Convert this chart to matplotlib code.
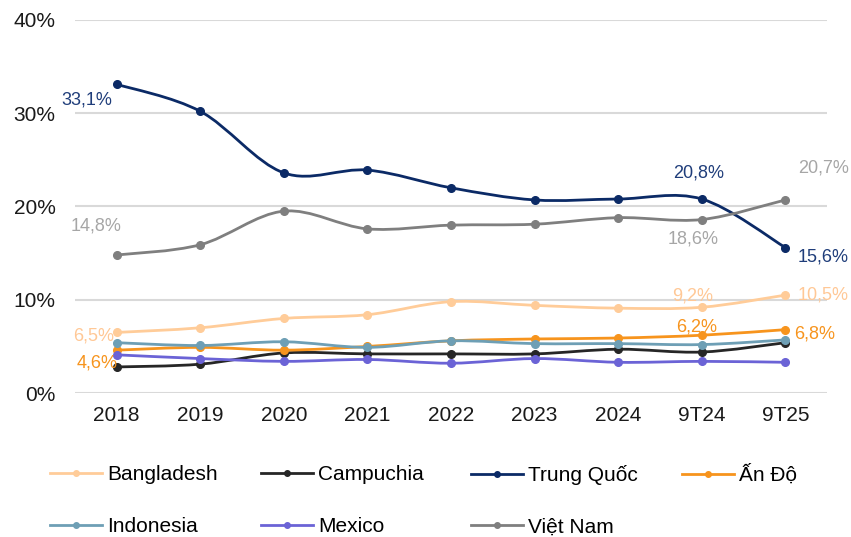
import matplotlib.pyplot as plt
from matplotlib.path import Path
from matplotlib.patches import PathPatch
from matplotlib.lines import Line2D
import numpy as np

plt.rcParams['font.family'] = ['Liberation Sans', 'DejaVu Sans']

nam = ["2018", "2019", "2020", "2021", "2022", "2023", "2024", "9T24", "9T25"]

bangladesh = [6.5, 7.0, 8.0, 8.4, 9.8, 9.4, 9.1, 9.2, 10.5]
campuchia = [2.8, 3.1, 4.3, 4.2, 4.2, 4.2, 4.7, 4.4, 5.4]
trung_quoc = [33.1, 30.2, 23.6, 23.9, 22.0, 20.7, 20.8, 20.8, 15.6]
an_do = [4.6, 4.9, 4.6, 5.0, 5.6, 5.8, 5.9, 6.2, 6.8]
indonesia = [5.4, 5.1, 5.5, 4.9, 5.6, 5.3, 5.3, 5.2, 5.7]
mexico = [4.1, 3.7, 3.4, 3.6, 3.2, 3.7, 3.3, 3.4, 3.3]
viet_nam = [14.8, 15.9, 19.5, 17.6, 18.0, 18.1, 18.8, 18.6, 20.7]

series = [
    ("Bangladesh", bangladesh, "#FFCC99"),
    ("Campuchia", campuchia, "#262626"),
    ("Trung Quốc", trung_quoc, "#0B2A66"),
    ("Ấn Độ", an_do, "#F7941D"),
    ("Indonesia", indonesia, "#6E9FB5"),
    ("Mexico", mexico, "#6B63D6"),
    ("Việt Nam", viet_nam, "#7F7F7F"),
]


def duong_cong(x, y):
    # duong cong muot kieu Excel (Catmull-Rom -> Bezier)
    n = len(x)
    verts = [(x[0], y[0])]
    codes = [Path.MOVETO]
    for i in range(n - 1):
        x0, y0 = (x[i - 1], y[i - 1]) if i > 0 else (x[i], y[i])
        x3, y3 = (x[i + 2], y[i + 2]) if i + 2 < n else (x[i + 1], y[i + 1])
        c1 = (x[i] + (x[i + 1] - x0) / 6, y[i] + (y[i + 1] - y0) / 6)
        c2 = (x[i + 1] - (x3 - x[i]) / 6, y[i + 1] - (y3 - y[i]) / 6)
        verts += [c1, c2, (x[i + 1], y[i + 1])]
        codes += [Path.CURVE4] * 3
    return Path(verts, codes)


fig = plt.figure(figsize=(8.51, 5.37), dpi=100)
ax = fig.add_axes([0.088, 0.268, 0.884, 0.695])

xs = np.arange(len(nam))
handles = []
for ten, vals, mau in series:
    p = PathPatch(duong_cong(xs, vals), facecolor="none", edgecolor=mau, lw=2.0,
                  capstyle="round", joinstyle="round")
    ax.add_patch(p)
    ax.plot(xs, vals, linestyle="none", marker="o", markersize=5.5, color=mau)
    handles.append(Line2D([], [], color=mau, lw=2.0, marker="o", markersize=4, label=ten))

ax.set_xlim(-0.5, 8.5)
ax.set_ylim(0, 40)
ax.set_yticks([0, 10, 20, 30, 40])
ax.set_yticklabels(["0%", "10%", "20%", "30%", "40%"])
ax.set_xticks(xs)
ax.set_xticklabels(nam)
ax.grid(axis="y", color="#D9D9D9", lw=1.5)
ax.set_axisbelow(True)
for s in ax.spines.values():
    s.set_visible(False)
ax.tick_params(length=0, labelsize=15, colors="#1A1A1A")
ax.tick_params(axis="x", pad=9)
ax.tick_params(axis="y", pad=14)


def nhan(i, vals, mau, dx, dy, ha="center", va="center"):
    ax.annotate(f"{vals[i]:.1f}%".replace(".", ","), (xs[i], vals[i]), xytext=(dx, dy),
                textcoords="offset points", ha=ha, va=va, color=mau, fontsize=13)


xanh = "#1F3D7A"
xam = "#A6A6A6"
dao = "#FFC896"
cam = "#F7941D"
nhan(0, trung_quoc, xanh, -3, -11, ha="right")
nhan(0, viet_nam, xam, -15, 21)
nhan(0, bangladesh, dao, -2, -2.5, ha="right")
nhan(0, an_do, cam, 1, -9, ha="right")
nhan(7, trung_quoc, xanh, -2, 19)
nhan(7, viet_nam, xam, -6.5, -14)
nhan(7, bangladesh, dao, -6.5, 8)
nhan(7, an_do, cam, -3.5, 6)
nhan(8, viet_nam, xam, 9, 23, ha="left")
nhan(8, trung_quoc, xanh, 9, -7, ha="left")
nhan(8, bangladesh, dao, 9, 0, ha="left")
nhan(8, an_do, cam, 6, -3, ha="left")

# chu thich: 4 cot, 2 hang
cot_x = [50, 261, 471, 682]
hang_y = [475, 527]
W, H = 851, 537
vi_tri = [(0, 0), (0, 1), (0, 2), (0, 3), (1, 0), (1, 1), (1, 2)]
for h, (r, c) in zip(handles, vi_tri):
    fig.legend([h], [h.get_label()], loc="center left",
               bbox_to_anchor=(cot_x[c] / W, 1 - hang_y[r] / H), frameon=False,
               fontsize=15, handlelength=2.5, handletextpad=0.25, borderpad=0,
               borderaxespad=0)

fig.savefig("out.png", dpi=100)
